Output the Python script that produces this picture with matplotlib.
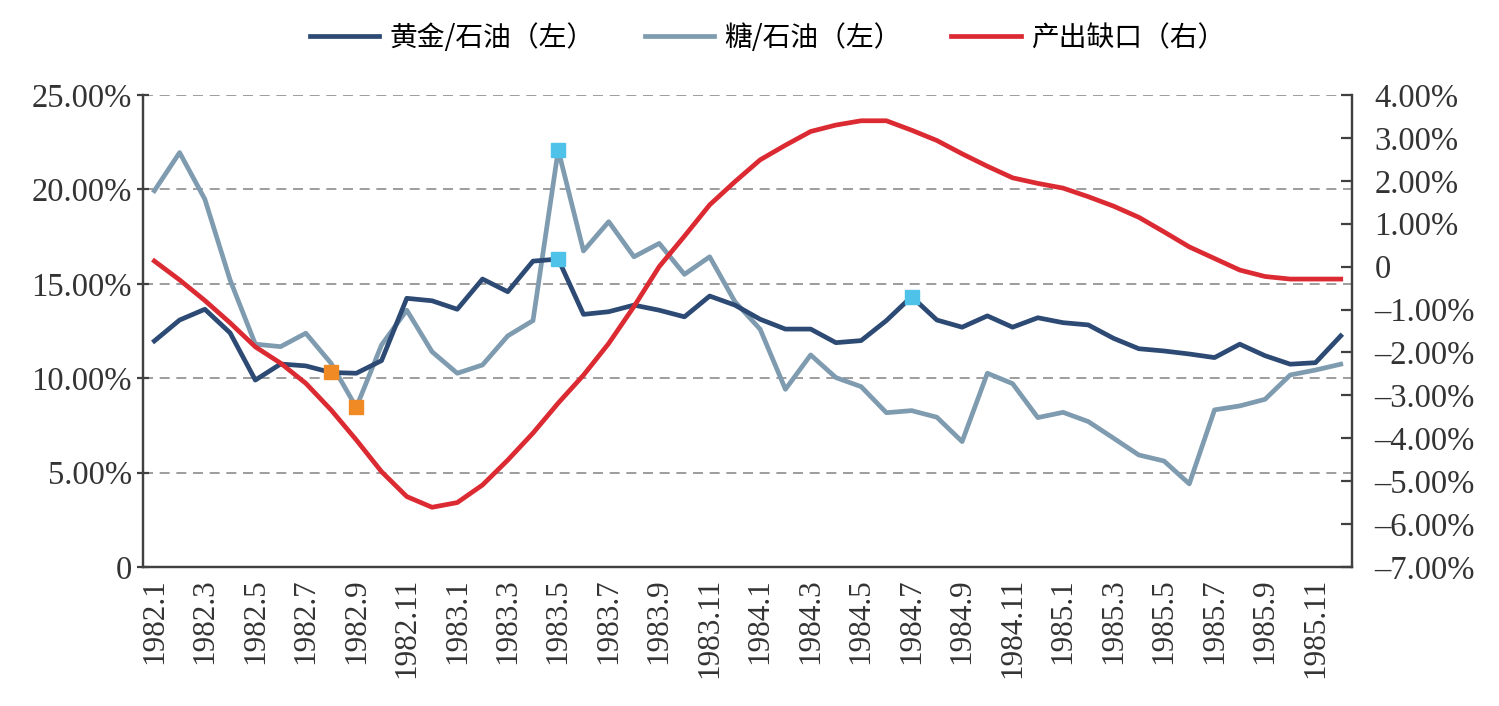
import numpy as np
import matplotlib
matplotlib.use("Agg")
import matplotlib.pyplot as plt
from matplotlib.ticker import FuncFormatter

# 月度数据 1982.1 - 1985.12
years = [1982, 1983, 1984, 1985]
months = [f"{y}.{m}" for y in years for m in range(1, 13)]

gold_oil = [11.97, 13.08, 13.65, 12.40, 9.90, 10.75, 10.65, 10.30, 10.26, 10.93,
            14.23, 14.10, 13.65, 15.25, 14.58, 16.20, 16.31, 13.38, 13.52, 13.87,
            13.60, 13.25, 14.35, 13.87, 13.12, 12.60, 12.60, 11.88, 11.99, 13.05,
            14.32, 13.08, 12.70, 13.30, 12.70, 13.20, 12.94, 12.82, 12.11, 11.56,
            11.44, 11.28, 11.09, 11.80, 11.19, 10.74, 10.82, 12.24]

sugar_oil = [19.93, 21.95, 19.48, 15.20, 11.80, 11.67, 12.38, 10.79, 8.45, 11.76,
             13.60, 11.40, 10.26, 10.70, 12.24, 13.05, 22.09, 16.74, 18.29, 16.43,
             17.14, 15.50, 16.43, 14.05, 12.59, 9.41, 11.23, 10.03, 9.55, 8.17,
             8.28, 7.93, 6.64, 10.26, 9.71, 7.91, 8.19, 7.70, 6.82, 5.93,
             5.61, 4.40, 8.32, 8.53, 8.88, 10.17, 10.43, 10.74]

output_gap = [0.13, -0.31, -0.79, -1.31, -1.87, -2.25, -2.72, -3.34, -4.04, -4.78,
              -5.36, -5.61, -5.50, -5.09, -4.51, -3.88, -3.18, -2.53, -1.79, -0.93,
              0.00, 0.71, 1.44, 1.98, 2.49, 2.83, 3.15, 3.30, 3.40, 3.40,
              3.18, 2.94, 2.63, 2.34, 2.07, 1.94, 1.83, 1.63, 1.41, 1.15,
              0.81, 0.46, 0.19, -0.08, -0.23, -0.29, -0.29, -0.29]

# 标记点
gold_orange = [7]
sugar_orange = [8]
gold_blue = [16, 30]
sugar_blue = [16]

navy = "#2c4a73"
steel = "#7f9bb0"
red = "#dc2a32"
orange = "#f08a24"
sky = "#4fc2ea"

num_font = "Liberation Serif"
cjk_font = ["Noto Sans CJK SC", "DejaVu Sans"]

x = np.arange(len(months))
gold = np.array(gold_oil)
sugar = np.array(sugar_oil)

fig = plt.figure(figsize=(14.99, 7.06), dpi=100)
ax = fig.add_axes([0.0954, 0.197, 0.8066, 0.6684])
ax2 = ax.twinx()

for v in [5, 10, 15, 20, 25]:
    ax.axhline(v, color="#8c8c8c", lw=1.2, ls=(0, (6, 4)), zorder=0)

l1, = ax.plot(x, gold, color=navy, lw=3.4, solid_joinstyle="round", zorder=3)
l2, = ax.plot(x, sugar, color=steel, lw=3.4, solid_joinstyle="round", zorder=2)
l3, = ax2.plot(x, output_gap, color=red, lw=3.4, solid_joinstyle="round", zorder=3)

ax.plot(x[gold_orange], gold[gold_orange], "s", color=orange, ms=10, zorder=5)
ax.plot(x[sugar_orange], sugar[sugar_orange], "s", color=orange, ms=10, zorder=5)
ax.plot(x[gold_blue], gold[gold_blue], "s", color=sky, ms=10, zorder=5)
ax.plot(x[sugar_blue], sugar[sugar_blue], "s", color=sky, ms=10, zorder=5)

ax.set_xlim(-0.45, 47.45)
ax.set_ylim(0, 25)
ax2.set_ylim(-7, 4)

ax.set_yticks([0, 5, 10, 15, 20, 25])
ax.yaxis.set_major_formatter(FuncFormatter(lambda v, p: "0" if v == 0 else f"{v:.2f}%"))
ax2.set_yticks(np.arange(-7, 5, 1))
ax2.yaxis.set_major_formatter(
    FuncFormatter(lambda v, p: "0" if v == 0 else f"{v:.2f}%".replace("-", "\u2013")))

ax.set_xticks(x[::2])
ax.set_xticklabels(months[::2], rotation=90)

for a in (ax, ax2):
    for s in a.spines.values():
        s.set_color("#404040")
        s.set_linewidth(1.6)
    a.spines["top"].set_visible(False)

ax.tick_params(axis="x", length=0, pad=8, labelsize=22.5, labelcolor="#333333")
ax.tick_params(axis="y", direction="inout", length=8, width=1.6, color="#404040",
               labelsize=23.5, labelcolor="#333333", pad=4)
ax2.tick_params(axis="y", direction="in", length=8, width=1.6, color="#404040",
                labelsize=23.5, labelcolor="#333333", pad=16)
for lab in ax.get_xticklabels() + ax.get_yticklabels() + ax2.get_yticklabels():
    lab.set_fontfamily(num_font)

fig.legend([l1, l2, l3], ["黄金/石油（左）", "糖/石油（左）", "产出缺口（右）"],
           loc="center", bbox_to_anchor=(0.512, 0.946), ncol=3, frameon=False,
           prop={"family": cjk_font, "size": 20}, handlelength=2.5,
           columnspacing=1.8, handletextpad=0.36)

fig.savefig("out.png", dpi=100, facecolor="white")
